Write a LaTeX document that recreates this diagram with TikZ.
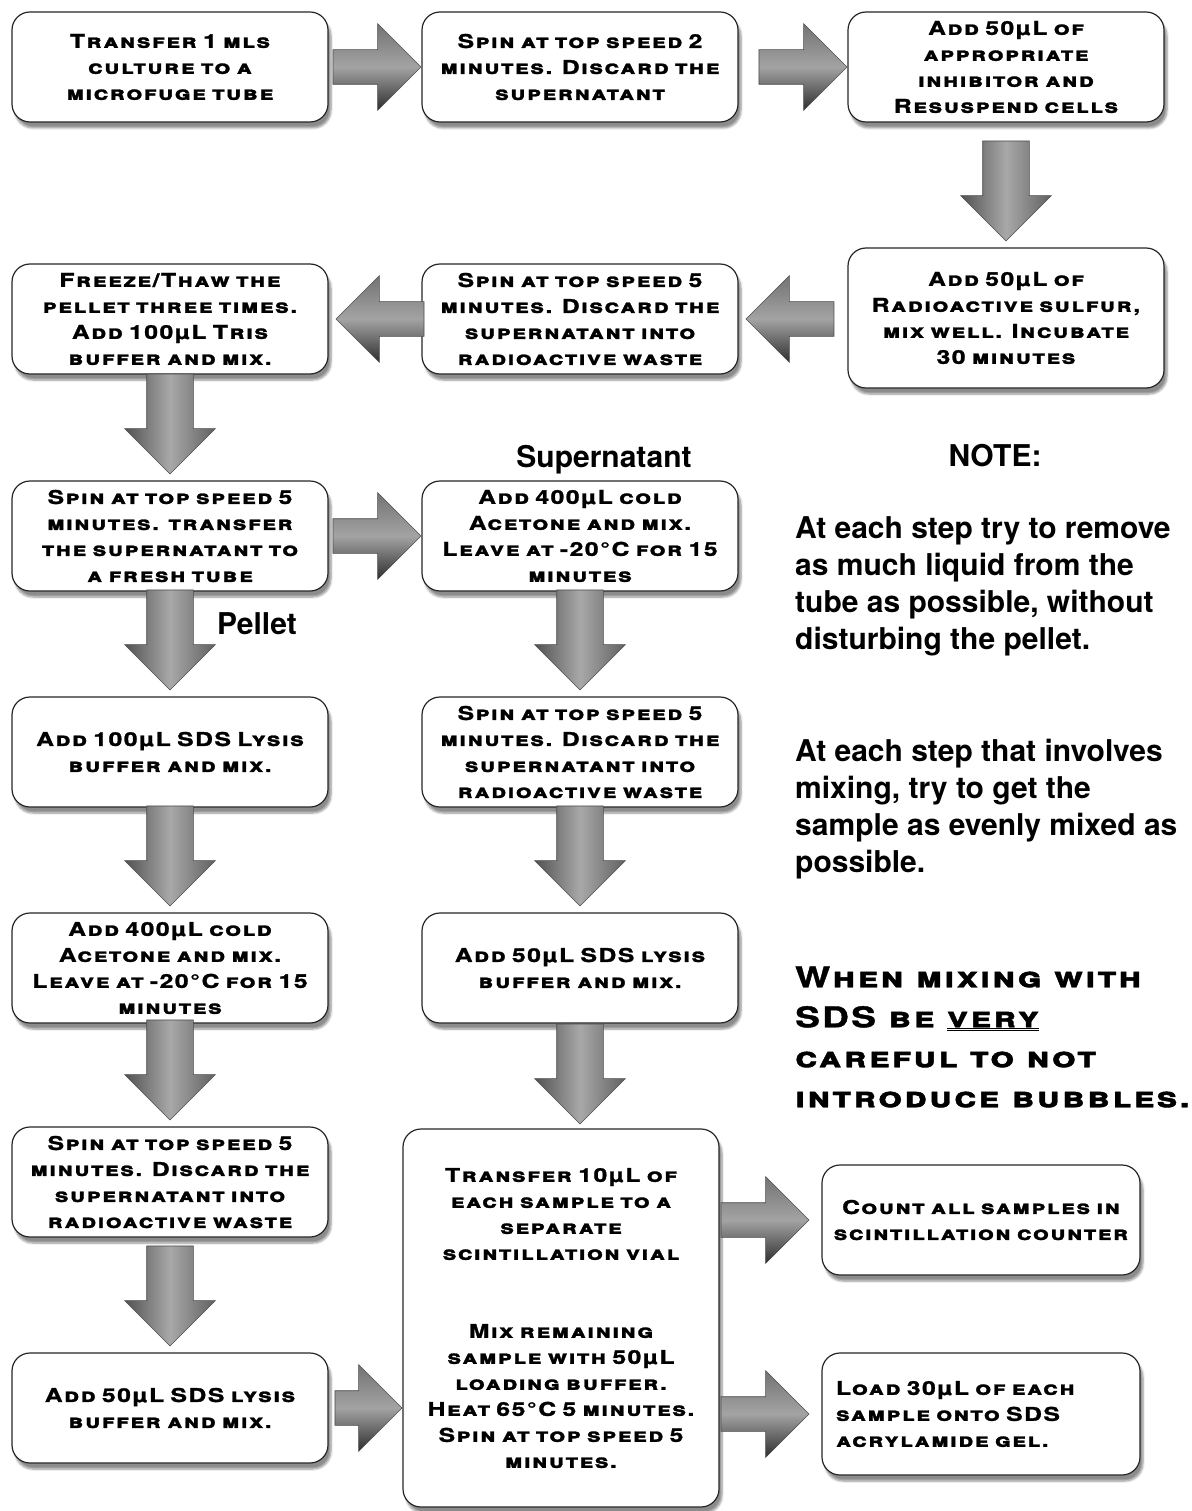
\documentclass[tikz,border=0pt]{standalone}
\usepackage{fontspec}
\setmainfont{TeX Gyre Heros}
\newfontfamily\cpfont{TeX Gyre Heros}[LetterSpace=8,FakeStretch=1.3,FakeBold=1.4]
\usetikzlibrary{shapes.arrows,shadows.blur}

\tikzset{
  stepbox/.style={draw=black!85, line width=1.2pt, rounded corners=18pt, fill=white,
    minimum width=316pt, minimum height=110pt, text width=302pt, inner sep=3pt, align=center,
    font=\cpfont\bfseries\scshape\fontsize{19}{26}\selectfont,
    blur shadow={shadow xshift=3pt, shadow yshift=-6pt, shadow opacity=45, shadow blur steps=6}},
  harrow/.style={single arrow, draw=black!70, line width=0.6pt, inner xsep=0pt, inner ysep=17pt,
    minimum height=88pt, single arrow head extend=26pt,
    top color=black!55, bottom color=black!82, middle color=black!36,
    pos=1, anchor=tip},
  larrow/.style={harrow, shape border rotate=180},
  varrow/.style={harrow, shape border rotate=270, minimum height=100pt, inner xsep=23pt, inner ysep=0pt,
    single arrow head extend=22pt, left color=black!68, right color=black!62, middle color=black!34},
  label/.style={font=\bfseries\fontsize{30}{36}\selectfont},
  note/.style={anchor=west, align=left, inner sep=0pt, font=\bfseries\fontsize{30}{37}\selectfont}
}

\begin{document}
\begin{tikzpicture}[x=1pt,y=-1pt]
\useasboundingbox (0,0) rectangle (1191,1511);

\node[stepbox] (A) at (170,67) {Transfer 1 mls\\culture to a\\microfuge tube};
\node[stepbox] (B) at (580,67) {Spin at top speed 2\\minutes. Discard the\\supernatant};
\node[stepbox] (C) at (1006,67) {Add 50µL of\\appropriate\\inhibitor and\\Resuspend cells};
\node[stepbox, minimum height=140pt] (D) at (1006,318) {Add 50µL of\\Radioactive sulfur,\\mix well. Incubate\\30 minutes};
\node[stepbox] (E) at (580,319) {Spin at top speed 5\\minutes. Discard the\\supernatant into\\radioactive waste};
\node[stepbox] (F) at (170,319) {Freeze/Thaw the\\pellet three times.\\Add 100µL Tris\\buffer and mix.};
\node[stepbox] (G) at (170,536) {Spin at top speed 5\\minutes. transfer\\the supernatant to\\a fresh tube};
\node[stepbox] (H) at (580,536) {Add 400µL cold\\Acetone and mix.\\Leave at -20°C for 15\\minutes};
\node[stepbox] (I) at (170,752) {Add 100µL SDS Lysis\\buffer and mix.};
\node[stepbox] (J) at (580,752) {Spin at top speed 5\\minutes. Discard the\\supernatant into\\radioactive waste};
\node[stepbox] (K) at (170,968) {Add 400µL cold\\Acetone and mix.\\Leave at -20°C for 15\\minutes};
\node[stepbox] (L) at (580,968) {Add 50µL SDS lysis\\buffer and mix.};
\node[stepbox] (M) at (170,1182) {Spin at top speed 5\\minutes. Discard the\\supernatant into\\radioactive waste};
\node[stepbox] (O) at (170,1408) {Add 50µL SDS lysis\\buffer and mix.};
\node[stepbox, minimum height=378pt] (N) at (561,1318) {Transfer 10µL of\\each sample to a\\separate\\scintillation vial\\[52pt]Mix remaining\\sample with 50µL\\loading buffer.\\Heat 65°C 5 minutes.\\Spin at top speed 5\\minutes.};
\node[stepbox, minimum width=318pt] (P) at (981,1220) {Count all samples in\\scintillation counter};
\node[stepbox, minimum width=318pt, minimum height=122pt, text width=290pt, align=left] (Q) at (981,1414) {Load 30µL of each\\sample onto SDS\\acrylamide gel.};

\foreach \a/\b in {A/B,B/C,G/H}
  \path (\a.east) -- node[harrow]{} (\b.west);
\foreach \a/\b in {D/E,E/F}
  \path (\a.west) -- node[larrow]{} ([xshift=7pt]\b.east);
\foreach \a/\b in {C/D,F/G,G/I,H/J,I/K,J/L,K/M,M/O}
  \path (\a.south) -- node[varrow]{} ([yshift=6pt]\b.north);
\path (L.south) -- node[varrow]{} ([yshift=4pt]L.south |- N.north);
\path (O.east) -- node[harrow, minimum height=67pt]{} (O.east -| N.west);
\path (N.east |- P.west) -- node[harrow]{} ([xshift=-12pt]P.west);
\path (N.east |- Q.west) -- node[harrow]{} ([xshift=-12pt]Q.west);

\node[label] (sup) at (604,460) {Supernatant};
\node[label] (pel) at (257,624) {Pellet};
\node[label] (nt) at (995,456) {NOTE:};
\node[note] (n1) at (795,586) {At each step try to remove\\as much liquid from the\\tube as possible, without\\disturbing the pellet.};
\node[note] (n2) at (795,809) {At each step that involves\\mixing, try to get the\\sample as evenly mixed as\\possible.};
\node[note, font=\cpfont\bfseries\scshape\fontsize{28.5}{40}\selectfont] (n3) at (795,1037) {When mixing with\\SDS be \underline{\underline{very}}\\careful to not\\introduce bubbles.};
\end{tikzpicture}
\end{document}
